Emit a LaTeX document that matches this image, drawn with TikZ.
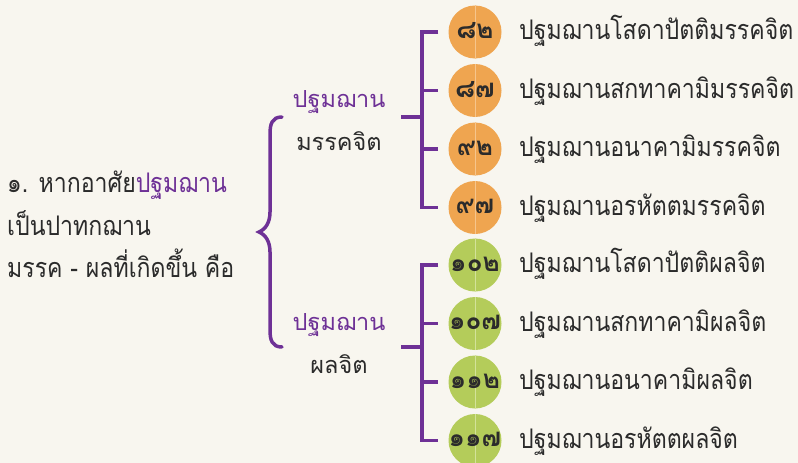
\documentclass[tikz,border=0pt]{standalone}
\usepackage{fontspec}
\newfontfamily\thai[Script=Thai]{Loma}
\newfontfamily\thainarrow[Script=Thai,FakeStretch=0.855]{Loma}
\definecolor{bg}{HTML}{F8F6EF}
\definecolor{ink}{HTML}{2B2B2B}
\definecolor{purp}{HTML}{6E3196}
\definecolor{orng}{HTML}{EFA550}
\definecolor{orngl}{HTML}{F6C58C}
\definecolor{grn}{HTML}{B4CC5A}
\definecolor{grnl}{HTML}{D3E29A}
\tikzset{
  lefttext/.style={anchor=base west, inner sep=0pt, font=\thainarrow\fontsize{27}{30}\selectfont, text=ink},
  itemtext/.style={anchor=base west, inner sep=0pt, font=\thainarrow\fontsize{27}{30}\selectfont, text=ink},
  grouphead/.style={anchor=base, inner sep=0pt, font=\thai\fontsize{23.5}{26}\selectfont, text=purp},
  groupsub/.style={anchor=base, inner sep=0pt, font=\thai\fontsize{23.5}{26}\selectfont, text=ink},
  numdisc/.style={circle, minimum size=53pt, inner sep=0pt},
  numtext/.style={inner sep=0pt, font=\thai\bfseries\fontsize{26}{28}\selectfont, text=ink},
  orangedisc/.style={numdisc, fill=orng},
  greendisc/.style={numdisc, fill=grn},
  brk/.style={draw=purp, line width=3.5pt},
}
\begin{document}
\begin{tikzpicture}[x=1pt,y=-1pt]
\useasboundingbox (0,0) rectangle (798,463);
\fill[bg] (0,0) rectangle (798,463);

% left text
\node[lefttext] (l1) at (7,192) {๑. หากอาศัย\textcolor{purp}{ปฐมฌาน}};
\node[lefttext] (l2) at (7,235) {เป็นปาทกฌาน};
\node[lefttext] (l3) at (7,277) {มรรค - ผลที่เกิดขึ้น คือ};

% big brace
\coordinate (bt) at (282,117);
\coordinate (bb) at (282,347);
\draw[brk, line cap=round] (bt) .. controls (272,117) and (270,124) .. (270,134)
  -- (270,212) .. controls (270,222) and (266,229) .. (259,232)
  .. controls (266,235) and (270,242) .. (270,252)
  -- (270,330) .. controls (270,340) and (272,347) .. (bb);

% group labels
\node[grouphead] (h1) at (339,107) {ปฐมฌาน};
\node[groupsub] (s1) at (339,150) {มรรคจิต};
\node[grouphead] (h2) at (339,330) {ปฐมฌาน};
\node[groupsub] (s2) at (339,373) {ผลจิต};

% discs
\foreach \n/\y/\t in {o1/32/๘๒, o2/90.5/๘๗, o3/149/๙๒, o4/207.5/๙๗}{
  \node[orangedisc] (\n) at (475,\y) {};
  \draw[orngl, line width=0.7pt] (\n.north) -- (\n.south);
  \node[numtext] at ([yshift=1pt]\n.center) {\t};
}
\foreach \n/\y/\t in {g1/265/๑๐๒, g2/323.5/๑๐๗, g3/382/๑๑๒, g4/440.5/๑๑๗}{
  \node[greendisc] (\n) at (475,\y) {};
  \draw[grnl, line width=0.7pt] (\n.north) -- (\n.south);
  \node[numtext] at ([yshift=1pt]\n.center) {\t};
}

% brackets
\coordinate (st1) at (401,117);
\coordinate (j1) at (422,117);
\coordinate (st2) at (401,347);
\coordinate (j2) at (422,347);
\draw[brk] (st1) -- (j1);
\draw[brk] ([xshift=-10pt]o1.west) -| (422,207.5) -- ([xshift=-10pt]o4.west);
\draw[brk] (422,90.5) -- ([xshift=-10pt]o2.west);
\draw[brk] (422,149) -- ([xshift=-10pt]o3.west);
\draw[brk] (st2) -- (j2);
\draw[brk] ([xshift=-10pt]g1.west) -| (422,440.5) -- ([xshift=-10pt]g4.west);
\draw[brk] (422,323.5) -- ([xshift=-10pt]g2.west);
\draw[brk] (422,382) -- ([xshift=-10pt]g3.west);

% item texts
\node[itemtext] (t1) at (519,39.5) {ปฐมฌานโสดาปัตติมรรคจิต};
\node[itemtext] (t2) at (519,98) {ปฐมฌานสกทาคามิมรรคจิต};
\node[itemtext] (t3) at (519,156.5) {ปฐมฌานอนาคามิมรรคจิต};
\node[itemtext] (t4) at (519,215) {ปฐมฌานอรหัตตมรรคจิต};
\node[itemtext] (t5) at (519,272.5) {ปฐมฌานโสดาปัตติผลจิต};
\node[itemtext] (t6) at (519,331) {ปฐมฌานสกทาคามิผลจิต};
\node[itemtext] (t7) at (519,389.5) {ปฐมฌานอนาคามิผลจิต};
\node[itemtext] (t8) at (519,448) {ปฐมฌานอรหัตตผลจิต};
\end{tikzpicture}
\end{document}
